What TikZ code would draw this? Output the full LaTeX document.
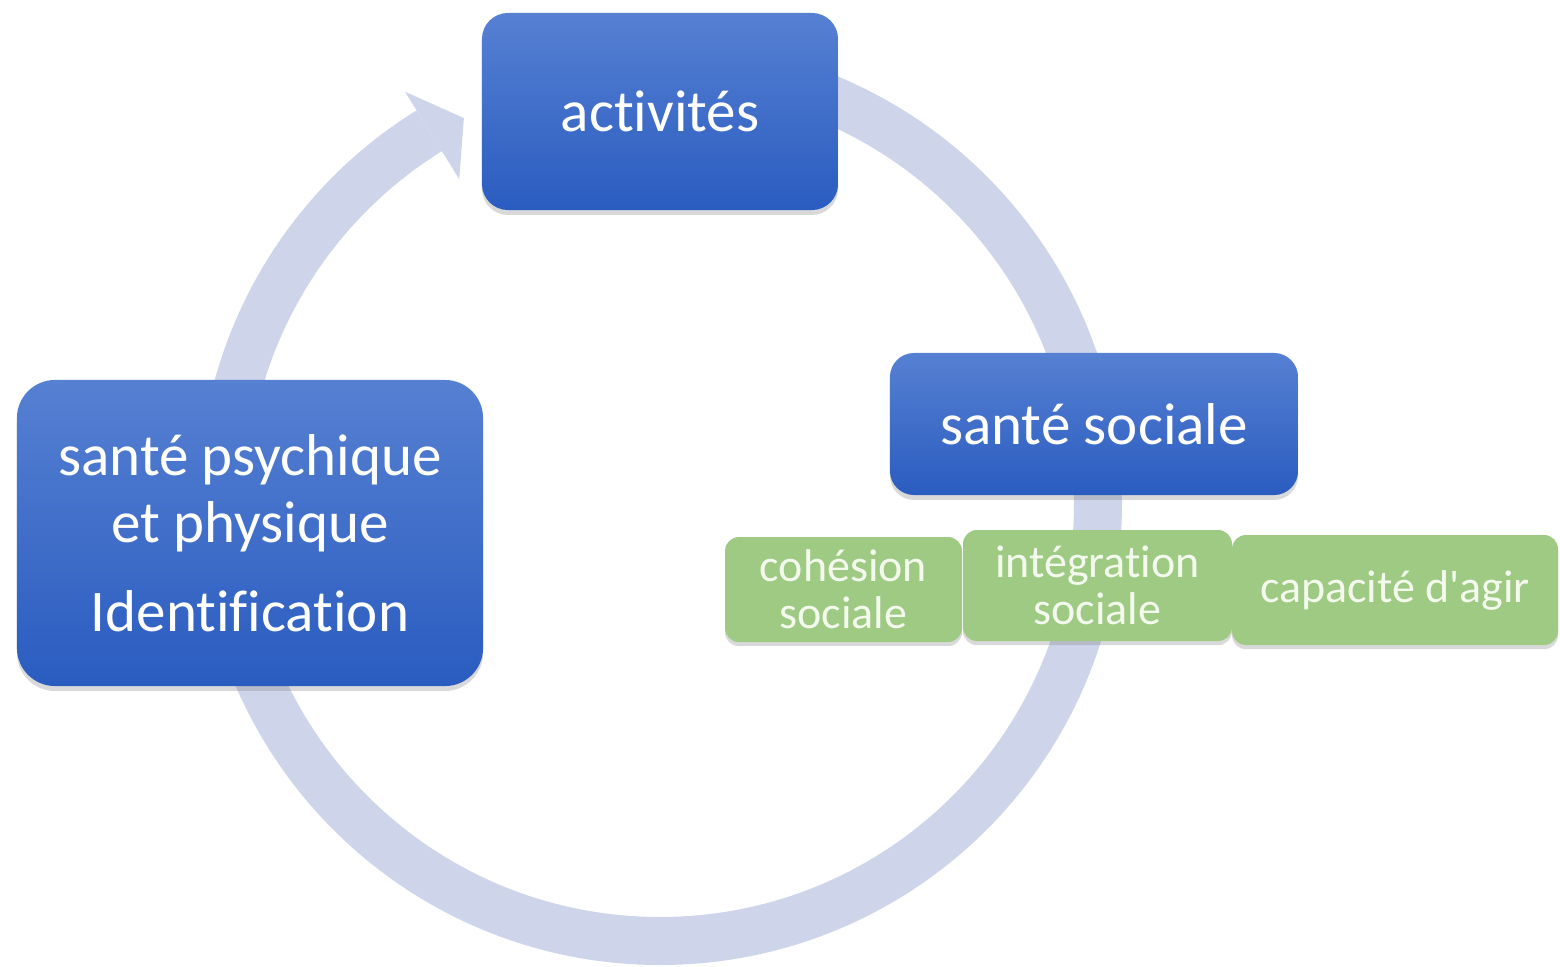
\documentclass[tikz,border=0pt]{standalone}
\usepackage{fontspec}
\setmainfont{Carlito}[Ligatures={NoCommon}]
\usetikzlibrary{shadows}
\definecolor{ringgrey}{RGB}{206,212,234}
\definecolor{boxtop}{RGB}{86,128,210}
\definecolor{boxbottom}{RGB}{42,92,192}
\definecolor{leafgreen}{RGB}{158,202,131}
\definecolor{leaftext}{RGB}{243,250,237}

\begin{document}
\begin{tikzpicture}[x=0.025cm, y=0.025cm,
	bluebox/.style={rounded corners=0.65cm, top color=boxtop, bottom color=boxbottom, text=white, align=center, inner sep=0pt, font=\fontsize{42}{47.6}\selectfont, drop shadow={shadow xshift=0pt, shadow yshift=-3.5pt, opacity=0.3}},
	greenbox/.style={rounded corners=0.35cm, fill=leafgreen, text=leaftext, align=center, inner sep=0pt, font=\fontsize{32.7}{33.4}\selectfont, drop shadow={shadow xshift=0pt, shadow yshift=-3pt, opacity=0.3}}]
		\useasboundingbox (0,0) rectangle (1560,-967);

		% cycle ring with its head
		\begin{scope}[shift={(660,-503)}]
			\coordinate (ringstart) at (90:438);
			\coordinate (ringend) at (121.8:438);
			\coordinate (ringtip) at (117:432);
			\draw [line width=1.2cm, color=ringgrey] (ringstart) arc [start angle=90, end angle=-238.2, radius=438];
			\fill [color=ringgrey] (121.8:484) -- (ringtip) -- (121.8:381) -- cycle;
		\end{scope}

		\node [bluebox, minimum width=8.9cm, minimum height=4.925cm] at (660,-111.5) (activites) {activités};
		\node [bluebox, rounded corners=0.95cm, minimum width=11.65cm, minimum height=7.65cm] at (250,-533) (psyche) {santé psychique\\et physique\\[16pt]Identification};
		\node [bluebox, rounded corners=0.6cm, minimum width=10.2cm, minimum height=3.55cm] at (1094,-424) (sociale) {santé sociale};

		\foreach \x/\y/\w/\h/\n/\t in {843.5/589.5/237/105/cohesion/{cohésion\\sociale}, 1097.5/585.5/269/111/integration/{intégration\\sociale}, 1395/590/326/110/capacite/{capacité d\textquotesingle agir}}
			\node [greenbox, minimum width=\w*0.025cm, minimum height=\h*0.025cm] at (\x,-\y) (\n) {\t};

	\end{tikzpicture}
\end{document}
